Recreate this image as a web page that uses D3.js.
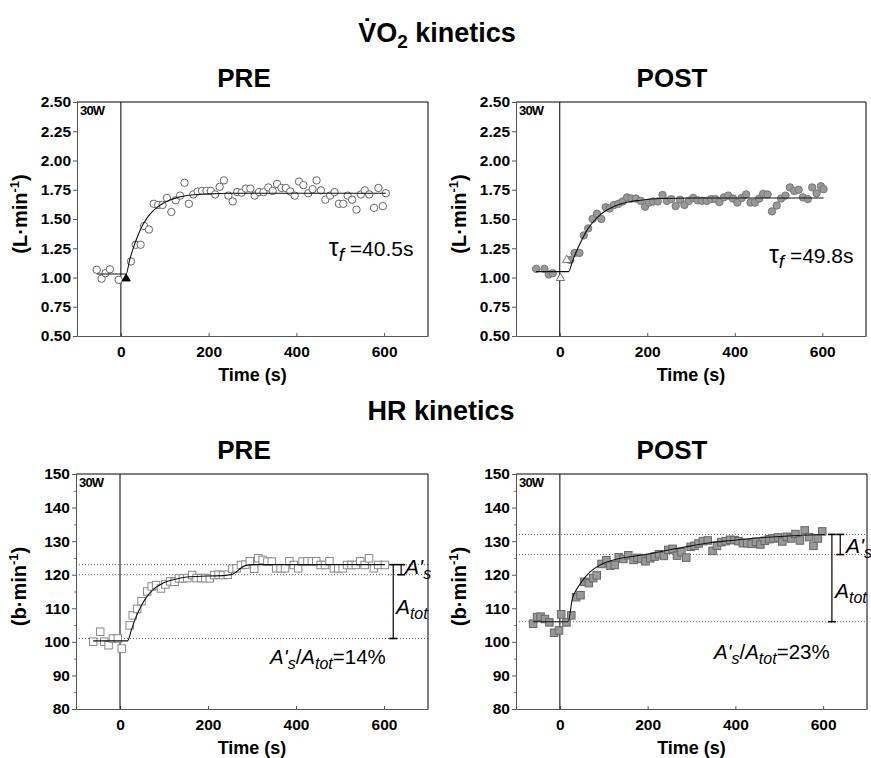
<!DOCTYPE html>
<html>
<head>
<meta charset="utf-8">
<script src="https://cdn.jsdelivr.net/npm/d3@7"></script>
<style>
  body { margin: 0; background: #fff; }
  text { font-family: "Liberation Sans", Arial, sans-serif; }
</style>
</head>
<body>
<script>
// ---- data ----
// time (s), value
const vo2Pre = [[-55,1.066],[-44,0.99],[-35,1.037],[-25,1.07],[-5,0.98],[23,1.137],[34,1.28],[45,1.28],[53,1.44],[64,1.41],
  [75,1.63],[85,1.62],[95,1.62],[105,1.68],[115,1.56],[125,1.66],[135,1.70],[145,1.81],[155,1.63],[165,1.71],
  [175,1.735],[185,1.74],[195,1.74],[205,1.74],[215,1.71],[225,1.775],[235,1.83],[245,1.70],[255,1.65],[265,1.73],
  [275,1.725],[285,1.76],[295,1.76],[305,1.70],[315,1.73],[325,1.73],[336,1.77],[346,1.74],[356,1.80],[366,1.765],
  [376,1.765],[386,1.735],[396,1.70],[406,1.82],[416,1.79],[427,1.72],[437,1.755],[446,1.83],[456,1.745],[466,1.665],
  [477,1.70],[487,1.73],[497,1.63],[507,1.63],[517,1.70],[527,1.665],[537,1.58],[547,1.71],[556,1.745],[566,1.71],
  [577,1.595],[587,1.765],[597,1.61],[604,1.72]];
const vo2PreTri = [[12,0.99]];
const vo2PreFit = [[-55,1.03],[12,1.03],[20,1.15],[30,1.27],[40,1.37],[50,1.45],[60,1.51],[75,1.575],[90,1.62],
  [110,1.66],[130,1.685],[160,1.705],[200,1.715],[250,1.72],[604,1.72]];

const vo2Post = [[-54,1.074],[-35,1.074],[-25,1.026],[-16,1.037],[24,1.15],[34,1.21],[45,1.21],[55,1.36],[65,1.42],[75,1.50],
  [85,1.545],[95,1.50],[105,1.60],[114,1.59],[124,1.62],[134,1.63],[144,1.65],[154,1.685],[164,1.675],[174,1.675],
  [185,1.655],[195,1.605],[204,1.64],[214,1.65],[224,1.65],[235,1.705],[245,1.655],[255,1.67],[265,1.61],[275,1.665],
  [285,1.62],[295,1.655],[305,1.68],[315,1.66],[325,1.655],[336,1.655],[346,1.67],[356,1.67],[365,1.645],[375,1.685],
  [385,1.70],[396,1.675],[406,1.64],[416,1.68],[426,1.71],[436,1.64],[446,1.64],[456,1.675],[465,1.715],[475,1.71],
  [485,1.565],[496,1.615],[506,1.675],[516,1.70],[526,1.77],[536,1.74],[546,1.75],[556,1.685],[567,1.67],[577,1.77],
  [587,1.72],[597,1.78],[603,1.755]];
const vo2PostTri = [[1.5,0.995],[16,1.15]];
const vo2PostFit = [[-54,1.05],[20,1.05],[30,1.15],[45,1.28],[65,1.42],[85,1.51],[105,1.57],[125,1.61],[145,1.635],
  [185,1.66],[230,1.675],[300,1.68],[603,1.68]];

const hrPre = [[-61,100.05],[-45,103.0],[-36,100.05],[-26,99.0],[-16,101.0],[-5,101.0],[4,98.0],[22,104.9],[29,107.9],[39,109.8],
  [49,112.1],[62,115.0],[72,116.5],[82,116.9],[93,115.9],[103,117.1],[114,118.0],[124,117.9],[134,118.9],[143,118.9],
  [153,119.0],[164,119.9],[174,119.0],[184,119.0],[194,119.0],[204,118.9],[214,119.9],[224,120.0],[234,119.9],[245,120.0],
  [255,121.8],[265,121.9],[275,122.9],[285,123.0],[295,124.0],[305,121.8],[314,124.9],[324,124.4],[335,123.9],[345,123.9],
  [355,121.9],[365,121.9],[375,121.9],[385,124.0],[395,122.9],[405,121.9],[415,123.9],[426,124.0],[436,124.0],[446,124.0],
  [456,122.9],[466,122.9],[476,124.0],[486,121.9],[496,121.9],[506,121.9],[516,122.9],[526,122.9],[536,122.9],[546,124.0],
  [556,122.9],[566,124.9],[577,121.9],[587,122.9],[602,122.9]];
const hrPreFit = [[-61,100.3],[17,100.3],[26,103.6],[37,107.6],[49,110.9],[62,113.6],[79,116.0],[98,117.5],[121,118.5],
  [152,119.3],[198,119.6],[240,119.8],[255,120.1],[265,120.9],[275,122.0],[285,122.7],[301,123.0],[602,123.0]];
const hrPreLevels = [123, 120, 101];

const hrPost = [[-61,105.4],[-52,107.4],[-44,107.5],[-34,106.8],[-24,105.8],[-13,102.7],[-2,103.4],[3,108.2],[15,105.8],[26,107.9],
  [37,113.3],[47,113.9],[56,117.9],[66,117.5],[76,119.0],[84,119.8],[95,123.2],[106,124.3],[115,122.7],[125,122.9],
  [134,125.2],[145,124.7],[156,125.8],[168,124.4],[177,125.0],[186,124.7],[195,124.0],[206,124.9],[216,125.4],[226,126.1],
  [237,125.6],[247,127.4],[257,127.7],[267,125.7],[277,126.7],[288,125.1],[298,128.3],[307,128.6],[316,129.3],[326,130.0],
  [337,130.2],[348,127.1],[358,128.6],[368,129.7],[378,130.0],[388,130.4],[398,130.3],[407,130.0],[417,129.4],[427,129.4],
  [437,129.2],[447,129.8],[457,129.0],[467,130.1],[477,130.6],[487,130.8],[497,131.1],[507,129.9],[517,131.3],[527,130.8],
  [537,132.1],[547,130.2],[558,133.2],[568,131.2],[578,128.6],[588,130.8],[598,132.9]];
const hrPostFit = [[-61,106],[19,106],[28,112.6],[41,116.2],[59,119.5],[78,121.8],[101,123.5],[131,124.7],[169,125.5],
  [208,126.3],[253,127.5],[299,128.6],[345,129.6],[391,130.2],[436,130.8],[490,131.3],[543,131.7],[604,132.0]];
const hrPostLevels = [132, 126, 106];

const xTicks = [0, 200, 400, 600];
const vo2Ticks = [0.5, 0.75, 1.0, 1.25, 1.5, 1.75, 2.0, 2.25, 2.5];
const hrTicks = [80, 90, 100, 110, 120, 130, 140, 150];
const hrMinor = [85, 95, 105, 115, 125, 135, 145];

// ---- drawing ----
const W = 871, H = 758;
const svg = d3.select("body").append("svg").attr("width", W).attr("height", H);

function panel(o) {
  const x = d3.scaleLinear().domain([-100, 700]).range([o.x0, o.x1]);
  const y = d3.scaleLinear().domain(o.yDomain).range([o.y1, o.y0]);
  const g = svg.append("g");

  // dotted reference levels
  (o.levels || []).forEach(v => {
    g.append("line").attr("x1", o.x0).attr("x2", o.x1).attr("y1", y(v)).attr("y2", y(v))
      .attr("stroke", "#666").attr("stroke-width", 1).attr("stroke-dasharray", "1,2");
  });

  // axes
  const ya = g.append("g").attr("transform", `translate(${o.x0},0)`)
    .call(d3.axisLeft(y).tickValues(o.yTicks).tickFormat(o.fmt).tickSizeInner(4).tickSizeOuter(0).tickPadding(2));
  if (o.minor) {
    g.append("g").attr("transform", `translate(${o.x0},0)`)
      .call(d3.axisLeft(y).tickValues(o.minor).tickFormat("").tickSizeInner(2).tickSizeOuter(0))
      .call(a => a.select(".domain").remove())
      .selectAll("line").attr("stroke", "#777");
  }
  const xa = g.append("g").attr("transform", `translate(0,${o.y1})`)
    .call(d3.axisBottom(x).tickValues(xTicks).tickFormat(d3.format("d")).tickSizeInner(-3).tickSizeOuter(0).tickPadding(10));
  [ya, xa].forEach(a => {
    a.select(".domain").attr("stroke", "#555");
    a.selectAll(".tick line").attr("stroke", "#555");
    a.selectAll("text").attr("font-size", 15.5).attr("font-weight", "bold").attr("fill", "#000")
      .attr("font-family", '"Liberation Sans", Arial, sans-serif');
  });

  // top / right frame
  g.append("line").attr("x1", o.x0).attr("x2", o.x1).attr("y1", o.y0).attr("y2", o.y0).attr("stroke", "#000");
  g.append("line").attr("x1", o.x1).attr("x2", o.x1).attr("y1", o.y0).attr("y2", o.y1).attr("stroke", "#000");

  // exercise onset
  g.append("line").attr("x1", x(0)).attr("x2", x(0)).attr("y1", o.y0).attr("y2", o.y1).attr("stroke", "#000");

  g.append("text").attr("x", o.x0 + 3).attr("y", o.y0 + 13).attr("font-size", 13).attr("font-weight", "bold")
    .attr("letter-spacing", -0.8).text("30W");

  // points
  if (o.shape === "circle") {
    g.append("g").selectAll("circle").data(o.data).join("circle")
      .attr("cx", d => x(d[0])).attr("cy", d => y(d[1])).attr("r", 3.7)
      .attr("fill", o.fill).attr("stroke", o.stroke).attr("stroke-width", 1);
  } else {
    const s = 7.5;
    g.append("g").selectAll("rect").data(o.data).join("rect")
      .attr("x", d => x(d[0]) - s / 2).attr("y", d => y(d[1]) - s / 2).attr("width", s).attr("height", s)
      .attr("fill", o.fill).attr("stroke", o.stroke).attr("stroke-width", 1);
  }
  if (o.tri) {
    g.append("g").selectAll("path").data(o.tri).join("path")
      .attr("d", d3.symbol(d3.symbolTriangle, 30))
      .attr("transform", d => `translate(${x(d[0])},${y(d[1])})`)
      .attr("fill", o.triFill).attr("stroke", o.triStroke).attr("stroke-width", 0.8);
  }

  // fitted response
  const line = d3.line().x(d => x(d[0])).y(d => y(d[1])).curve(d3.curveMonotoneX);
  g.append("path").datum(o.fit).attr("d", line).attr("fill", "none").attr("stroke", "#111").attr("stroke-width", 1.1);

  // axis titles
  g.append("text").attr("x", (o.x0 + o.x1) / 2).attr("y", o.y1 + 45).attr("text-anchor", "middle")
    .attr("font-size", 18).attr("font-weight", "bold").text("Time (s)");
  const yl = g.append("text").attr("transform", `translate(${o.x0 - 50},${(o.y0 + o.y1) / 2 - 5}) rotate(-90)`)
    .attr("text-anchor", "middle").attr("font-size", 20).attr("font-weight", "bold");
  yl.append("tspan").text(o.yLabel);
  yl.append("tspan").text("-1").attr("font-size", 13).attr("dy", -8);
  yl.append("tspan").text(")").attr("dy", 8);

  g.append("text").attr("x", o.titleX).attr("y", o.y0 - 15).attr("text-anchor", "middle")
    .attr("font-size", 26).attr("font-weight", "bold").text(o.title);

  return { g, x, y };
}

// ---- VO2 ----
const t1 = svg.append("text").attr("x", 437).attr("y", 42).attr("text-anchor", "middle")
  .attr("font-size", 27).attr("font-weight", "bold");
t1.append("tspan").text("V\u0307O");
t1.append("tspan").text("2").attr("font-size", 19).attr("dy", 6);
t1.append("tspan").text(" kinetics").attr("dy", -6);

const p1 = panel({ x0: 77, x1: 428, y0: 102, y1: 336, yDomain: [0.5, 2.5], yTicks: vo2Ticks, fmt: d3.format(".2f"),
  data: vo2Pre, shape: "circle", fill: "#fff", stroke: "#666", tri: vo2PreTri, triFill: "#000", triStroke: "#000",
  fit: vo2PreFit, yLabel: "(L\u00b7min", title: "PRE", titleX: 244 });
const p2 = panel({ x0: 516, x1: 866, y0: 102, y1: 336, yDomain: [0.5, 2.5], yTicks: vo2Ticks, fmt: d3.format(".2f"),
  data: vo2Post, shape: "circle", fill: "#999", stroke: "#777", tri: vo2PostTri, triFill: "#fff", triStroke: "#555",
  fit: vo2PostFit, yLabel: "(L\u00b7min", title: "POST", titleX: 672 });

function tau(p, t, v, label) {
  const tx = p.g.append("text").attr("x", p.x(t)).attr("y", p.y(v)).attr("font-size", 21);
  tx.append("tspan").text("\u03c4").attr("font-size", 25);
  tx.append("tspan").text("f").attr("font-style", "italic").attr("font-size", 19).attr("dy", 5);
  tx.append("tspan").text(" =" + label).attr("dy", -5);
}
tau(p1, 474, 1.18, "40.5s");
tau(p2, 478, 1.12, "49.8s");

// ---- HR ----
svg.append("text").attr("x", 441).attr("y", 420).attr("text-anchor", "middle")
  .attr("font-size", 27).attr("font-weight", "bold").text("HR kinetics");

const p3 = panel({ x0: 76, x1: 428, y0: 474, y1: 709, yDomain: [80, 150], yTicks: hrTicks, minor: hrMinor, fmt: d3.format("d"),
  data: hrPre, shape: "square", fill: "#fff", stroke: "#888", levels: hrPreLevels,
  fit: hrPreFit, yLabel: "(b\u00b7min", title: "PRE", titleX: 244 });
const p4 = panel({ x0: 516, x1: 867, y0: 474, y1: 709, yDomain: [80, 150], yTicks: hrTicks, minor: hrMinor, fmt: d3.format("d"),
  data: hrPost, shape: "square", fill: "#999", stroke: "#666", levels: hrPostLevels,
  fit: hrPostFit, yLabel: "(b\u00b7min", title: "POST", titleX: 672 });

function amps(p, levels, tTot, tS, ratio, ratioPos, totPos, sPos) {
  const [top, mid, base] = levels;
  const g = p.g, x = p.x, y = p.y;
  const bar = (t, a, b, w) => {
    g.append("line").attr("x1", x(t)).attr("x2", x(t)).attr("y1", y(a)).attr("y2", y(b)).attr("stroke", "#000").attr("stroke-width", 1.2);
    [a, b].forEach(v => g.append("line").attr("x1", x(t) - w).attr("x2", x(t) + w).attr("y1", y(v)).attr("y2", y(v))
      .attr("stroke", "#000").attr("stroke-width", 1.6));
  };
  bar(tTot, top, base, 4);
  bar(tS, top, mid, 4);

  const a1 = g.append("text").attr("x", x(sPos[0])).attr("y", y(sPos[1])).attr("font-size", 21);
  a1.append("tspan").text("A'").attr("font-style", "italic");
  a1.append("tspan").text("s").attr("font-style", "italic").attr("font-size", 16).attr("dy", 5);

  const a2 = g.append("text").attr("x", x(totPos[0])).attr("y", y(totPos[1])).attr("font-size", 21);
  a2.append("tspan").text("A").attr("font-style", "italic");
  a2.append("tspan").text("tot").attr("font-style", "italic").attr("font-size", 16).attr("dy", 5);

  const r = g.append("text").attr("x", x(ratioPos[0])).attr("y", y(ratioPos[1])).attr("font-size", 20.5);
  r.append("tspan").text("A'").attr("font-style", "italic");
  r.append("tspan").text("s").attr("font-style", "italic").attr("font-size", 16).attr("dy", 5);
  r.append("tspan").text("/").attr("dy", -5);
  r.append("tspan").text("A").attr("font-style", "italic");
  r.append("tspan").text("tot").attr("font-style", "italic").attr("font-size", 16).attr("dy", 5);
  r.append("tspan").text("=" + ratio).attr("dy", -5);
}
amps(p3, hrPreLevels, 621, 639, "14%", [341, 93.5], [627, 108.4], [648, 120.3]);
amps(p4, hrPostLevels, 620, 639, "23%", [351, 94.9], [627, 113.1], [652, 126.5]);
</script>
</body>
</html>
